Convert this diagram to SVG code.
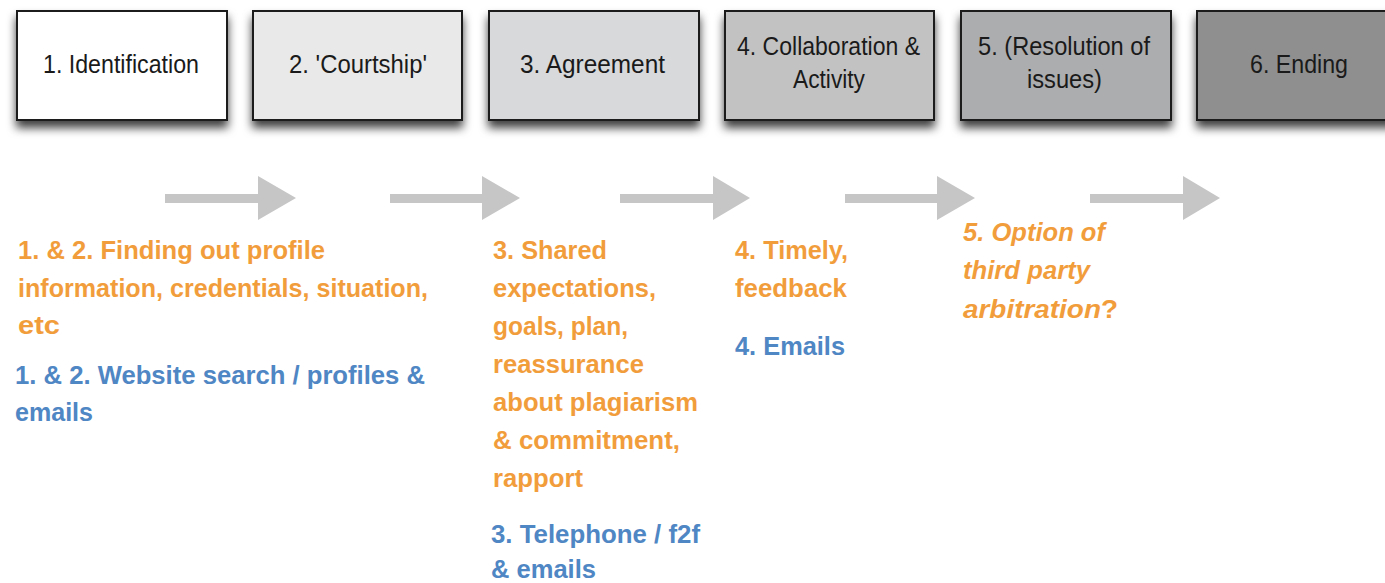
<svg xmlns="http://www.w3.org/2000/svg" width="1385" height="583" viewBox="0 0 1385 583">
<defs>
<filter id="sh" x="-10%" y="-20%" width="120%" height="150%">
<feDropShadow dx="0" dy="7" stdDeviation="5" flood-color="#000" flood-opacity="0.75"/>
</filter>
<style>
.box{stroke:#1e1e1e;stroke-width:2;filter:url(#sh)}
.bt{font-family:"Liberation Sans",Arial,sans-serif;font-size:25px;fill:#1a1a1a}
.arr{fill:#c6c6c6}
.o{font-family:"Liberation Sans",Arial,sans-serif;font-size:26px;font-weight:bold;fill:#f29d3c}
.b{font-family:"Liberation Sans",Arial,sans-serif;font-size:26px;font-weight:bold;fill:#4f86c4}
.i{font-style:italic}
</style>
</defs>
<rect width="1385" height="583" fill="#fff"/>
<g id="node1"><rect class="box" x="17" y="11" width="210" height="109" fill="#ffffff"/>
<text class="bt" x="43" y="73" textLength="156" lengthAdjust="spacingAndGlyphs">1. Identification</text></g>
<g id="node2"><rect class="box" x="253" y="11" width="209" height="109" fill="#e9e9e9"/>
<text class="bt" x="289" y="73" textLength="138" lengthAdjust="spacingAndGlyphs">2. 'Courtship'</text></g>
<g id="node3"><rect class="box" x="489" y="11" width="210" height="109" fill="#d7d9db"/>
<text class="bt" x="520" y="73" textLength="145" lengthAdjust="spacingAndGlyphs">3.  Agreement</text></g>
<g id="node4"><rect class="box" x="725" y="11" width="209" height="109" fill="#c2c2c2"/>
<text class="bt" x="737" y="55" textLength="183" lengthAdjust="spacingAndGlyphs">4. Collaboration &amp;</text>
<text class="bt" x="793" y="88" textLength="72" lengthAdjust="spacingAndGlyphs">Activity</text></g>
<g id="node5"><rect class="box" x="961" y="11" width="210" height="109" fill="#acadae"/>
<text class="bt" x="978" y="55" textLength="172" lengthAdjust="spacingAndGlyphs">5. (Resolution of</text>
<text class="bt" x="1027" y="88" textLength="75" lengthAdjust="spacingAndGlyphs">issues)</text></g>
<g id="node6"><rect class="box" x="1197" y="11" width="200" height="109" fill="#8f8f8f"/>
<text class="bt" x="1250" y="73" textLength="98" lengthAdjust="spacingAndGlyphs">6. Ending</text></g>
<g id="connectors">
<polygon class="arr" points="165,194 258,194 258,176 296,198 258,220 258,203 165,203"/>
<polygon class="arr" points="390,194 482,194 482,176 520,198 482,220 482,203 390,203"/>
<polygon class="arr" points="620,194 713,194 713,176 750,198 713,220 713,203 620,203"/>
<polygon class="arr" points="845,194 937,194 937,176 975,198 937,220 937,203 845,203"/>
<polygon class="arr" points="1090,194 1183,194 1183,176 1220,198 1183,220 1183,203 1090,203"/>
</g>
<g id="notes12">
<text class="o" x="18" y="259" textLength="307" lengthAdjust="spacingAndGlyphs">1. &amp; 2. Finding out profile</text>
<text class="o" x="18" y="297" textLength="410" lengthAdjust="spacingAndGlyphs">information, credentials, situation,</text>
<text class="o" x="18" y="334" textLength="42" lengthAdjust="spacingAndGlyphs">etc</text>
<text class="b" x="15" y="384" textLength="410" lengthAdjust="spacingAndGlyphs">1. &amp; 2. Website search / profiles &amp;</text>
<text class="b" x="15" y="421" textLength="78" lengthAdjust="spacingAndGlyphs">emails</text>
</g>
<g id="notes3">
<text class="o" x="493" y="259" textLength="114" lengthAdjust="spacingAndGlyphs">3. Shared</text>
<text class="o" x="493" y="297" textLength="163" lengthAdjust="spacingAndGlyphs">expectations,</text>
<text class="o" x="493" y="335" textLength="135" lengthAdjust="spacingAndGlyphs">goals, plan,</text>
<text class="o" x="493" y="373" textLength="151" lengthAdjust="spacingAndGlyphs">reassurance</text>
<text class="o" x="493" y="411" textLength="205" lengthAdjust="spacingAndGlyphs">about plagiarism</text>
<text class="o" x="493" y="449" textLength="187" lengthAdjust="spacingAndGlyphs">&amp; commitment,</text>
<text class="o" x="493" y="487" textLength="90" lengthAdjust="spacingAndGlyphs">rapport</text>
<text class="b" x="491" y="543" textLength="209" lengthAdjust="spacingAndGlyphs">3. Telephone / f2f</text>
<text class="b" x="491" y="578" textLength="105" lengthAdjust="spacingAndGlyphs">&amp; emails</text>
</g>
<g id="notes4">
<text class="o" x="735" y="259" textLength="113" lengthAdjust="spacingAndGlyphs">4. Timely,</text>
<text class="o" x="735" y="297" textLength="112" lengthAdjust="spacingAndGlyphs">feedback</text>
<text class="b" x="735" y="355" textLength="110" lengthAdjust="spacingAndGlyphs">4. Emails</text>
</g>
<g id="notes5">
<text class="o i" x="963" y="241" textLength="142" lengthAdjust="spacingAndGlyphs">5. Option of</text>
<text class="o i" x="963" y="279" textLength="127" lengthAdjust="spacingAndGlyphs">third party</text>
<text class="o" x="963" y="318" textLength="155" lengthAdjust="spacingAndGlyphs"><tspan class="i">arbitration</tspan>?</text>
</g>
</svg>
